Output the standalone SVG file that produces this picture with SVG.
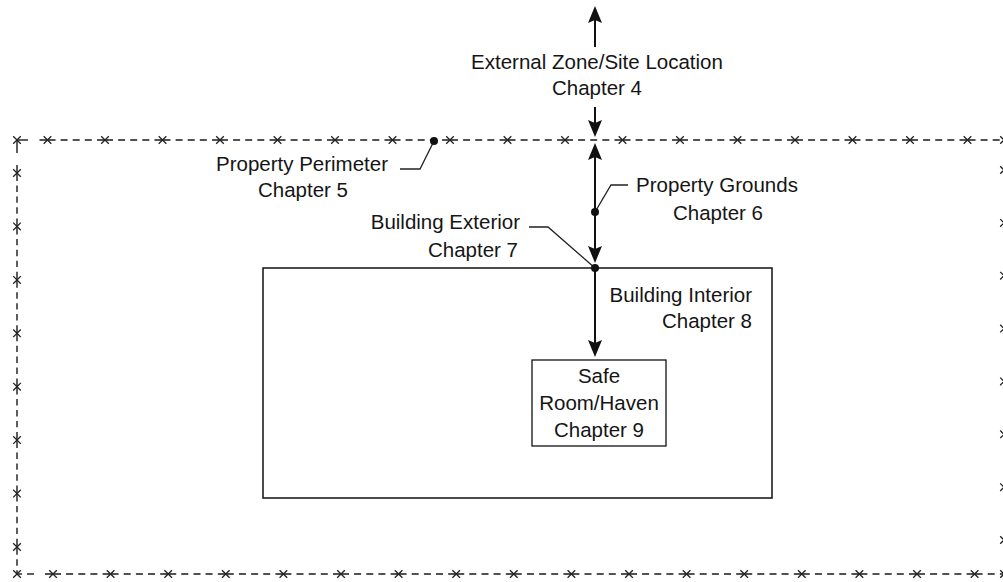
<svg xmlns="http://www.w3.org/2000/svg" xmlns:xlink="http://www.w3.org/1999/xlink" width="1003" height="582" viewBox="0 0 1003 582">
<style>
.t{font-family:"Liberation Sans",Arial,sans-serif;font-size:20.5px;fill:#151515}
.m{text-anchor:middle}
.e{text-anchor:end}
.fence{stroke:#1a1a1a;stroke-width:1.4;fill:none}
.fh{stroke-dasharray:16 5.1 7 5.1 7 5.1 7 5.2}
.fv{stroke-dasharray:16 4.5 6.4 4.5 6.4 4.5 6.4 4.7}
.xm{stroke:#222;stroke-width:1.3;fill:none}
.conn{stroke:#111;stroke-width:2;fill:none}
.lead{stroke:#222;stroke-width:1.3;fill:none}
.box{stroke:#111;stroke-width:1.5;fill:#fff}
.dot{fill:#111}
</style>
<defs>
<path id="x" class="xm" d="M-3.8,-3.8 L3.8,3.8 M-3.8,3.8 L3.8,-3.8"/>
<marker id="ah" markerUnits="userSpaceOnUse" viewBox="-20 -10 25 20" markerWidth="25" markerHeight="20" refX="0" refY="0" orient="auto-start-reverse" overflow="visible">
<path d="M3,0 L-14,-7 L-11,0 L-14,7 Z" fill="#111"/>
</marker>
</defs>

<g id="fence">
<line class="fence" x1="17" y1="140" x2="28" y2="140"/>
<line class="fence fh" x1="39.5" y1="140" x2="1004" y2="140"/>
<line class="fence" x1="17" y1="140" x2="17" y2="153"/>
<line class="fence fv" x1="17" y1="165" x2="17" y2="574"/>
<line class="fence" x1="17" y1="574" x2="22" y2="574"/>
<line class="fence" x1="27" y1="574" x2="34" y2="574"/>
<line class="fence fh" x1="45" y1="574" x2="1004" y2="574" style="stroke-dasharray:16 5.1 7 5.2 7 5.1 7 5.2"/>
<line class="fence fv" x1="1004" y1="162" x2="1004" y2="574" style="stroke-dasharray:16 4.4 6.3 4.4 6.3 4.4 6.3 4.76"/>
<g id="xmarks-top">
<use xlink:href="#x" x="17" y="140"/><use xlink:href="#x" x="47.5" y="140"/><use xlink:href="#x" x="105" y="140"/><use xlink:href="#x" x="162.5" y="140"/><use xlink:href="#x" x="220" y="140"/><use xlink:href="#x" x="277.5" y="140"/><use xlink:href="#x" x="335" y="140"/><use xlink:href="#x" x="392.5" y="140"/><use xlink:href="#x" x="450" y="140"/><use xlink:href="#x" x="507.5" y="140"/><use xlink:href="#x" x="565" y="140"/><use xlink:href="#x" x="622.5" y="140"/><use xlink:href="#x" x="680" y="140"/><use xlink:href="#x" x="737.5" y="140"/><use xlink:href="#x" x="795" y="140"/><use xlink:href="#x" x="852.5" y="140"/><use xlink:href="#x" x="910" y="140"/><use xlink:href="#x" x="967.5" y="140"/><use xlink:href="#x" x="1004" y="140"/>
</g>
<g id="xmarks-left">
<use xlink:href="#x" x="17" y="173"/><use xlink:href="#x" x="17" y="226.4"/><use xlink:href="#x" x="17" y="279.9"/><use xlink:href="#x" x="17" y="333.3"/><use xlink:href="#x" x="17" y="386.7"/><use xlink:href="#x" x="17" y="440.1"/><use xlink:href="#x" x="17" y="493.6"/><use xlink:href="#x" x="17" y="547"/><use xlink:href="#x" x="17" y="574"/>
</g>
<g id="xmarks-bottom">
<use xlink:href="#x" x="53" y="574"/><use xlink:href="#x" x="110.6" y="574"/><use xlink:href="#x" x="168.2" y="574"/><use xlink:href="#x" x="225.8" y="574"/><use xlink:href="#x" x="283.4" y="574"/><use xlink:href="#x" x="341" y="574"/><use xlink:href="#x" x="398.6" y="574"/><use xlink:href="#x" x="456.2" y="574"/><use xlink:href="#x" x="513.8" y="574"/><use xlink:href="#x" x="571.4" y="574"/><use xlink:href="#x" x="629" y="574"/><use xlink:href="#x" x="686.6" y="574"/><use xlink:href="#x" x="744.2" y="574"/><use xlink:href="#x" x="801.8" y="574"/><use xlink:href="#x" x="859.4" y="574"/><use xlink:href="#x" x="917" y="574"/><use xlink:href="#x" x="974.6" y="574"/><use xlink:href="#x" x="1004" y="574"/>
</g>
<g id="xmarks-right">
<use xlink:href="#x" x="1004" y="170"/><use xlink:href="#x" x="1004" y="222.9"/><use xlink:href="#x" x="1004" y="275.7"/><use xlink:href="#x" x="1004" y="328.6"/><use xlink:href="#x" x="1004" y="381.4"/><use xlink:href="#x" x="1004" y="434.3"/><use xlink:href="#x" x="1004" y="487.2"/><use xlink:href="#x" x="1004" y="540"/>
</g>
</g>

<g id="building">
<rect class="box" x="263" y="268" width="509" height="230"/>
</g>

<g id="safe-room">
<rect class="box" x="532" y="360" width="134" height="86" style="stroke-width:1.3"/>
<text class="t m" x="599" y="383">Safe</text>
<text class="t m" x="599" y="410">Room/Haven</text>
<text class="t m" x="599" y="437">Chapter 9</text>
</g>

<g id="connectors">
<line class="conn" x1="595" y1="47" x2="595" y2="9" marker-end="url(#ah)"/>
<line class="conn" x1="595" y1="107" x2="595" y2="134" marker-end="url(#ah)"/>
<line class="conn" x1="595" y1="146" x2="595" y2="260" marker-start="url(#ah)" marker-end="url(#ah)"/>
<line class="conn" x1="595" y1="268" x2="595" y2="354" marker-end="url(#ah)"/>
<polyline class="lead" points="434,141 420,169 400,169"/>
<polyline class="lead" points="595,212 611,185 628,185"/>
<polyline class="lead" points="595,268 548,227 529,227"/>
</g>

<g id="external-zone">
<text class="t m" x="597" y="69">External Zone/Site Location</text>
<text class="t m" x="597" y="95">Chapter 4</text>
</g>

<g id="property-perimeter">
<circle class="dot" cx="434" cy="141" r="4"/>
<text class="t m" x="302" y="171">Property Perimeter</text>
<text class="t m" x="303" y="197">Chapter 5</text>
</g>

<g id="property-grounds">
<circle class="dot" cx="595" cy="212" r="4"/>
<text class="t m" x="717" y="192">Property Grounds</text>
<text class="t m" x="718" y="220">Chapter 6</text>
</g>

<g id="building-exterior">
<circle class="dot" cx="595" cy="268" r="4"/>
<text class="t e" x="520" y="229">Building Exterior</text>
<text class="t e" x="518" y="257">Chapter 7</text>
</g>

<g id="building-interior">
<text class="t e" x="752" y="302">Building Interior</text>
<text class="t e" x="752" y="328">Chapter 8</text>
</g>
</svg>
